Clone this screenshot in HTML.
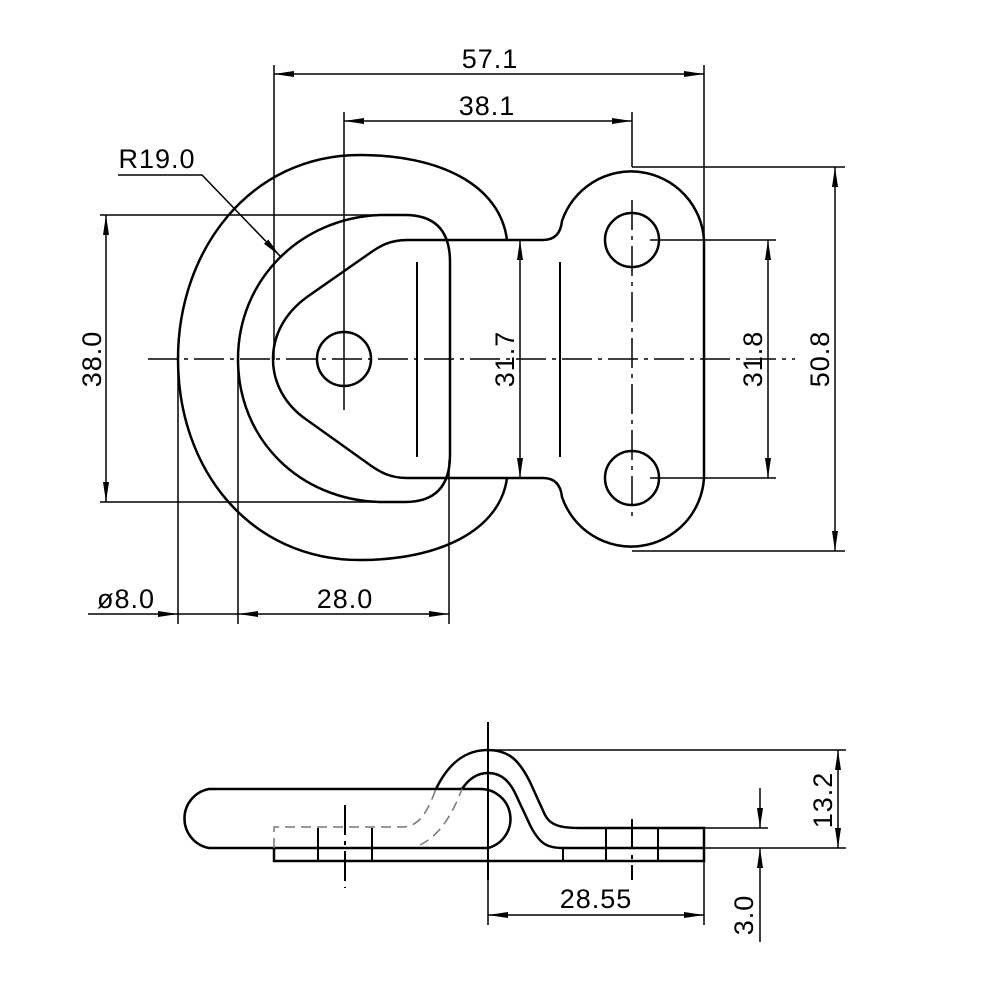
<!DOCTYPE html>
<html><head><style>html,body{margin:0;padding:0;background:#fff}svg{display:block}</style></head>
<body>
<svg width="1000" height="1000" viewBox="0 0 1000 1000" xmlns="http://www.w3.org/2000/svg">
<defs>
<marker id="a" viewBox="0 0 20 6" refX="20" refY="3" markerWidth="20" markerHeight="6" markerUnits="userSpaceOnUse" orient="auto-start-reverse">
<path d="M0,0 L20,3 L0,6 Z" fill="#000"/></marker>
</defs>
<g fill="none" stroke="#000" stroke-width="1.5">
<!-- extension lines -->
<line x1="274" y1="65" x2="274" y2="360"/>
<line x1="704" y1="65" x2="704" y2="240"/>
<line x1="344" y1="112" x2="344" y2="410"/>
<line x1="632" y1="112" x2="632" y2="167"/>
<line x1="100" y1="215" x2="380" y2="215"/>
<line x1="100" y1="502" x2="380" y2="502"/>
<line x1="650" y1="240" x2="776" y2="240"/>
<line x1="650" y1="478" x2="776" y2="478"/>
<line x1="632" y1="167" x2="845" y2="167"/>
<line x1="632" y1="551" x2="845" y2="551"/>
<line x1="178" y1="359" x2="178" y2="624"/>
<line x1="238" y1="359" x2="238" y2="624"/>
<line x1="449" y1="460" x2="449" y2="624"/>
<line x1="488" y1="722" x2="488" y2="925"/>
<line x1="704" y1="862" x2="704" y2="925"/>
<line x1="488" y1="750" x2="846" y2="750"/>
<line x1="704" y1="848" x2="846" y2="848"/>
<line x1="704" y1="828" x2="768" y2="828"/>
<!-- dimension lines -->
<line x1="274" y1="74" x2="704" y2="74" marker-start="url(#a)" marker-end="url(#a)"/>
<line x1="344" y1="121" x2="632" y2="121" marker-start="url(#a)" marker-end="url(#a)"/>
<line x1="106" y1="215" x2="106" y2="502" marker-start="url(#a)" marker-end="url(#a)"/>
<line x1="520" y1="240" x2="520" y2="478" marker-start="url(#a)" marker-end="url(#a)"/>
<line x1="768" y1="240" x2="768" y2="478" marker-start="url(#a)" marker-end="url(#a)"/>
<line x1="835" y1="167" x2="835" y2="551" marker-start="url(#a)" marker-end="url(#a)"/>
<line x1="88" y1="614" x2="178" y2="614" marker-end="url(#a)"/>
<line x1="238" y1="614" x2="449" y2="614" marker-start="url(#a)" marker-end="url(#a)"/>
<line x1="178" y1="614" x2="238" y2="614"/>
<line x1="838" y1="750" x2="838" y2="848" marker-start="url(#a)" marker-end="url(#a)"/>
<line x1="760" y1="788" x2="760" y2="828" marker-end="url(#a)"/>
<line x1="760" y1="942" x2="760" y2="848" marker-end="url(#a)"/>
<line x1="488" y1="915" x2="704" y2="915" marker-start="url(#a)" marker-end="url(#a)"/>
<!-- R19 leader -->
<polyline points="118,175 202,175 280,256" marker-end="url(#a)"/>
<!-- centerlines -->
<line x1="148" y1="359" x2="795" y2="359" stroke-dasharray="30,6,4,6"/>
<line x1="632" y1="200" x2="632" y2="520" stroke-dasharray="30,6,4,6"/>
</g>
<g fill="none" stroke="#000" stroke-width="2.5">
<!-- top view -->
<path d="M507,240 C500,185 440,155 360,155 C250,155 178,250 178,359 C178,470 250,560 360,560 C440,560 500,530 507,478"/>
<path d="M380,215 C300,218 238,280 238,359 C238,440 300,500 380,502 L405,502 Q450,502 450,455 L450,262 Q450,215 405,215 Z"/>
<path d="M407,240 C390,240 380,246 370,253 L307,297 C285,313 273,335 273,359 C273,383 285,405 307,420 L370,465 C380,472 390,478 407,478"/>
<path d="M407,240 L543,240 Q560,240 562,221 A73,73 0 0 1 704,240 L704,478 A73,73 0 0 1 562,497 Q560,478 543,478 L407,478"/>
<circle cx="344" cy="359" r="27"/>
<circle cx="632" cy="240" r="27"/>
<circle cx="632" cy="478" r="27"/>
<!-- side view -->
<path d="M479,789 L209,789 A30,30 0 0 0 209,848 L488,848 A30,30 0 0 0 479,789"/>
<path d="M436,789 C450,760 468,750 488,750 C510,750 520,762 530,782 L545,815 C550,825 560,828 579,828 L704,828 L704,861 L274,861 L274,848"/>
<path d="M462,789 C468,780 476,773 488,773 C502,773 510,782 516,795 L530,825 C540,845 548,848 563,848 L704,848"/>
</g>
<g fill="none" stroke="#000" stroke-width="2">
<line x1="417" y1="262" x2="417" y2="457"/>
<line x1="560" y1="262" x2="560" y2="457"/>
<line x1="488" y1="722" x2="488" y2="880"/>
<line x1="345" y1="805" x2="345" y2="888" stroke-dasharray="30,6,4,6"/>
<line x1="632" y1="819" x2="632" y2="880" stroke-dasharray="30,6,4,6"/>
<line x1="318" y1="828" x2="318" y2="861"/>
<line x1="372" y1="828" x2="372" y2="861"/>
<line x1="606" y1="828" x2="606" y2="861"/>
<line x1="658" y1="828" x2="658" y2="861"/>
<line x1="563" y1="848" x2="563" y2="861"/>
</g>
<g fill="none" stroke="#777" stroke-width="1.5" stroke-dasharray="10,6">
<path d="M274,848 L274,827 L402,827 C420,827 428,810 436,789"/>
<path d="M420,845 C440,835 452,815 462,789"/>
</g>
<g font-family="Liberation Sans, sans-serif" font-size="27" fill="#000" letter-spacing="1" text-anchor="middle">
<text x="490" y="68">57.1</text>
<text x="487" y="115">38.1</text>
<text x="157" y="168">R19.0</text>
<text x="126" y="608">ø8.0</text>
<text x="345" y="608">28.0</text>
<text x="596" y="908">28.55</text>
<text transform="translate(101,359) rotate(-90)">38.0</text>
<text transform="translate(514,359) rotate(-90)">31.7</text>
<text transform="translate(762,359) rotate(-90)">31.8</text>
<text transform="translate(829,359) rotate(-90)">50.8</text>
<text transform="translate(832,800) rotate(-90)">13.2</text>
<text transform="translate(753,915) rotate(-90)">3.0</text>
</g>
</svg>
</body></html>
